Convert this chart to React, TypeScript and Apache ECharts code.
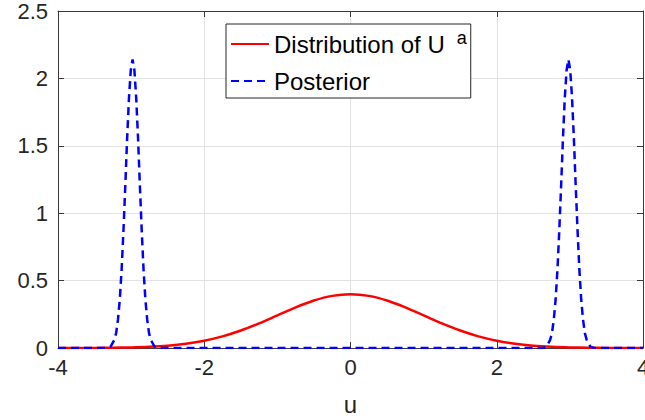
import React, { useEffect, useRef } from "react";
import * as echarts from "echarts";

// ---- data ----
const seriesNames = ["Distribution of U", "Posterior"];

const priorU = [
  -4, -3.75, -3.5, -3.25, -3, -2.75, -2.5, -2.25, -2, -1.75, -1.5, -1.25, -1,
  -0.75, -0.5, -0.25, 0, 0.25, 0.5, 0.75, 1, 1.25, 1.5, 1.75, 2, 2.25, 2.5,
  2.75, 3, 3.25, 3.5, 3.75, 4,
];
const priorDensity = [
  0.0001, 0.0004, 0.0009, 0.002, 0.0044, 0.0091, 0.0175, 0.0317, 0.054,
  0.0863, 0.1295, 0.1826, 0.242, 0.3011, 0.3521, 0.3867, 0.3989, 0.3867,
  0.3521, 0.3011, 0.242, 0.1826, 0.1295, 0.0863, 0.054, 0.0317, 0.0175,
  0.0091, 0.0044, 0.002, 0.0009, 0.0004, 0.0001,
];

const posteriorU = [
  -4, -3.33, -3.28, -3.23, -3.205, -3.18, -3.155, -3.13, -3.105, -3.08, -3.055,
  -3.03, -3.005, -2.98, -2.955, -2.93, -2.905, -2.88, -2.855, -2.83, -2.805,
  -2.78, -2.755, -2.73, -2.68, -2.63,
  2.63, 2.68, 2.73, 2.755, 2.78, 2.805, 2.83, 2.855, 2.88, 2.905, 2.93, 2.955,
  2.98, 3.005, 3.03, 3.055, 3.08, 3.105, 3.13, 3.155, 3.18, 3.205, 3.23, 3.28,
  3.33, 4,
];
const posteriorDensity = [
  0, 0, 0.01, 0.06, 0.11, 0.21, 0.36, 0.58, 0.87, 1.2, 1.55, 1.85, 2.06, 2.14,
  2.06, 1.85, 1.55, 1.2, 0.87, 0.58, 0.36, 0.21, 0.11, 0.06, 0.01, 0,
  0, 0.01, 0.06, 0.11, 0.21, 0.36, 0.58, 0.87, 1.2, 1.55, 1.85, 2.06, 2.14,
  2.06, 1.85, 1.55, 1.2, 0.87, 0.58, 0.36, 0.21, 0.11, 0.06, 0.01, 0, 0,
];

const xMin = -4;
const xMax = 4;
const xStep = 2;
const yMin = 0;
const yMax = 2.5;
const yStep = 0.5;
const xAxisTitle = "u";

const FONT = "'Liberation Sans', Arial, Helvetica, sans-serif";
const AXIS_COLOR = "#3a3a3a";
const LABEL_COLOR = "#262626";
const GRID_COLOR = "#e2e2e2";

export default function App() {
  const ref = useRef<HTMLDivElement>(null);

  useEffect(() => {
    document.body.style.margin = "0";
    if (!ref.current) return;
    const chart = echarts.init(ref.current, null, { renderer: "svg" });

    const priorData = priorU.map((u, i) => [u, priorDensity[i]]);
    const postData = posteriorU.map((u, i) => [u, posteriorDensity[i]]);

    const baseAxisLine = { show: true, lineStyle: { color: AXIS_COLOR, width: 1 } };
    const tick = { show: true, inside: true, length: 6, lineStyle: { color: AXIS_COLOR } };

    chart.setOption({
      animation: false,
      backgroundColor: "#ffffff",
      grid: {
        left: 58,
        right: 2,
        top: 11,
        bottom: 72,
        containLabel: false,
        outerBoundsMode: "none",
      },
      legend: {
        data: seriesNames,
        orient: "vertical",
        left: 226,
        top: 24,
        padding: [5, 4, 2, 4],
        itemWidth: 38,
        itemHeight: 14,
        itemGap: 7,
        borderColor: "#262626",
        borderWidth: 1,
        backgroundColor: "#ffffff",
        itemStyle: { color: "transparent", borderWidth: 0, opacity: 0 },
        textStyle: {
          fontFamily: FONT,
          fontSize: 24,
          color: "#000000",
          lineHeight: 30,
          rich: {
            n: { fontFamily: FONT, fontSize: 24, color: "#000", lineHeight: 30 },
            sup: {
              fontFamily: FONT,
              fontSize: 18,
              color: "#000",
              verticalAlign: "top",
              padding: [0, 0, 12, 12],
            },
          },
        },
        formatter: (name: string) =>
          name === seriesNames[0] ? `{n|${name}}{sup|a}` : `{n|${name}}`,
      },
      xAxis: [
        {
          type: "value",
          min: xMin,
          max: xMax,
          interval: xStep,
          position: "bottom",
          name: xAxisTitle,
          nameLocation: "middle",
          nameGap: 44,
          nameTextStyle: { fontFamily: FONT, fontSize: 24, color: LABEL_COLOR },
          axisLine: { ...baseAxisLine, onZero: false },
          axisTick: tick,
          axisLabel: { fontFamily: FONT, fontSize: 22, color: LABEL_COLOR, margin: 8 },
          splitLine: { show: true, lineStyle: { color: GRID_COLOR, width: 1 } },
        },
        {
          type: "value",
          min: xMin,
          max: xMax,
          interval: xStep,
          position: "top",
          axisLine: { ...baseAxisLine, onZero: false },
          axisTick: tick,
          axisLabel: { show: false },
          splitLine: { show: false },
        },
      ],
      yAxis: [
        {
          type: "value",
          min: yMin,
          max: yMax,
          interval: yStep,
          position: "left",
          axisLine: { ...baseAxisLine, onZero: false },
          axisTick: tick,
          axisLabel: {
            fontFamily: FONT,
            fontSize: 22,
            color: LABEL_COLOR,
            margin: 10,
            padding: [4, 0, 0, 0],
          },
          splitLine: { show: true, lineStyle: { color: GRID_COLOR, width: 1 } },
        },
        {
          type: "value",
          min: yMin,
          max: yMax,
          interval: yStep,
          position: "right",
          axisLine: { ...baseAxisLine, onZero: false },
          axisTick: tick,
          axisLabel: { show: false },
          splitLine: { show: false },
        },
      ],
      series: [
        {
          name: seriesNames[0],
          type: "line",
          xAxisIndex: 0,
          yAxisIndex: 0,
          data: priorData,
          symbol: "none",
          smooth: 0.3,
          lineStyle: { color: "#ff0000", width: 2.5 },
          itemStyle: { color: "#ff0000" },
          z: 3,
        },
        {
          name: seriesNames[1],
          type: "line",
          xAxisIndex: 0,
          yAxisIndex: 0,
          data: postData,
          symbol: "none",
          lineStyle: { color: "#0000ff", width: 2.5, type: [8, 5] },
          itemStyle: { color: "#0000ff" },
          z: 4,
        },
      ],
    });

    return () => chart.dispose();
  }, []);

  return <div ref={ref} style={{ width: 645, height: 420 }} />;
}
